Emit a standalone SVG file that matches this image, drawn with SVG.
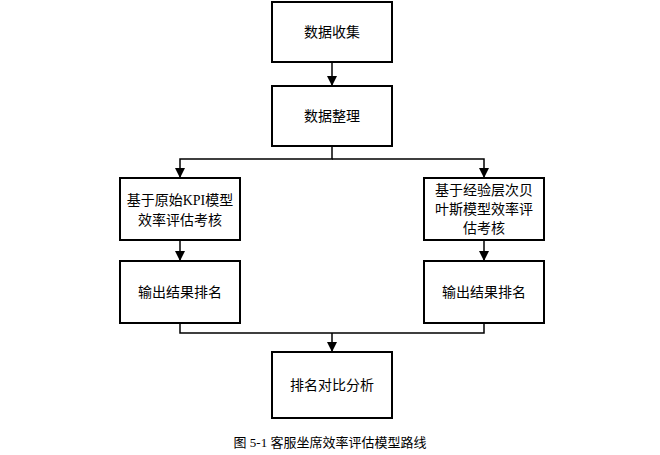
<svg xmlns="http://www.w3.org/2000/svg" width="660" height="455" viewBox="0 0 660 455">
<style>
.b{fill:#fff;stroke:#000;stroke-width:2}
.t{font-family:"Liberation Serif","Noto Sans CJK SC",serif;font-size:14px;text-anchor:middle}
.c{fill:none;stroke:#000;stroke-width:1.5}
</style>
<defs><marker id="a" markerWidth="10" markerHeight="10" refX="9" refY="5" orient="auto" markerUnits="userSpaceOnUse"><path d="M0,0L10,5L0,10z"/></marker></defs>
<g id="n1"><rect class="b" x="272" y="2" width="120" height="60"/><text class="t" x="332" y="37">数据收集</text></g>
<g id="n2"><rect class="b" x="272" y="86" width="120" height="60"/><text class="t" x="332" y="121">数据整理</text></g>
<g id="n3"><rect class="b" x="120" y="178" width="120" height="62"/><text class="t" x="180" y="205">基于原始KPI模型</text><text class="t" x="180" y="225">效率评估考核</text></g>
<g id="n4"><rect class="b" x="424" y="178" width="120" height="62"/><text class="t" x="484" y="195">基于经验层次贝</text><text class="t" x="484" y="214">叶斯模型效率评</text><text class="t" x="484" y="233">估考核</text></g>
<g id="n5"><rect class="b" x="120" y="261" width="120" height="62"/><text class="t" x="180" y="297">输出结果排名</text></g>
<g id="n6"><rect class="b" x="424" y="261" width="120" height="62"/><text class="t" x="484" y="297">输出结果排名</text></g>
<g id="n7"><rect class="b" x="272" y="352" width="120" height="66"/><text class="t" x="332" y="390">排名对比分析</text></g>
<g id="conn">
<path class="c" d="M332,62V85" marker-end="url(#a)"/>
<path class="c" d="M332,146V159H180V177" marker-end="url(#a)"/>
<path class="c" d="M332,159H484V177" marker-end="url(#a)"/>
<path class="c" d="M180,240V260" marker-end="url(#a)"/>
<path class="c" d="M484,240V260" marker-end="url(#a)"/>
<path class="c" d="M180,323V333H484V323"/>
<path class="c" d="M332,333V351" marker-end="url(#a)"/>
</g>
<text class="t" x="330" y="447" style="font-size:13px">图 5-1 客服坐席效率评估模型路线</text>
</svg>
